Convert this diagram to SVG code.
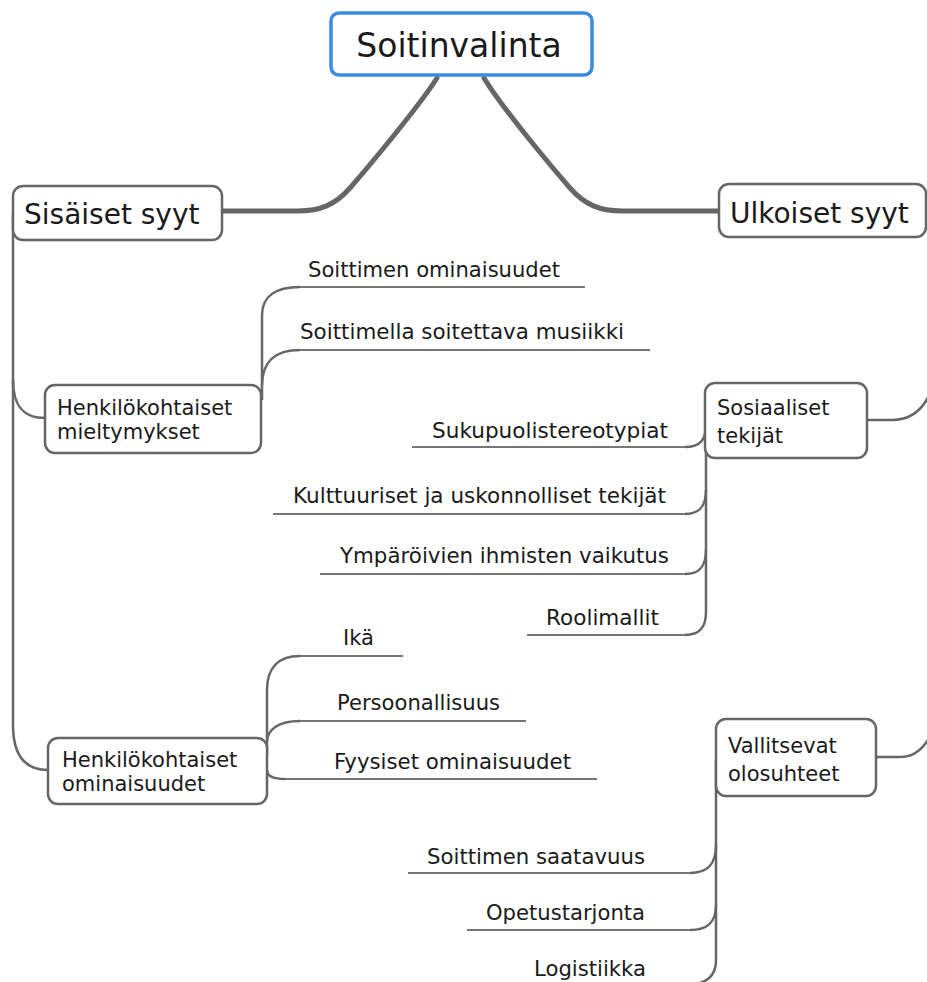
<svg xmlns="http://www.w3.org/2000/svg" width="927" height="982" viewBox="0 0 927 982">
<style>
.bg{fill:#fff}
.box{fill:#fff;stroke:#666;stroke-width:2.5}
.root{fill:#fff;stroke:#3a8dde;stroke-width:3.5}
.t{font-family:"DejaVu Sans","Liberation Sans",sans-serif;fill:#1a1a1a}
.big{font-size:28px}
.mid{font-size:21px}
.leaf{font-size:21px}
.thick{fill:none;stroke:#666;stroke-width:5;stroke-linecap:round}
.c{fill:none;stroke:#666;stroke-width:2.5}
.u{fill:none;stroke:#777;stroke-width:2}
</style>
<rect class="bg" width="927" height="982"/>
<g id="connectors">
  <path class="thick" d="M437,78 C420,105 370,165 350,188 C335,205 320,211 298,211 H222"/>
  <path class="thick" d="M484,78 C500,105 550,165 570,188 C585,205 600,211 622,211 H719"/>
  <path class="c" d="M13,215 V725 C13,755 25,770 48,770"/>
  <path class="c" d="M13,380 C13,408 25,418 45,418"/>
  <path class="c" d="M262,400 V315 C262,297 275,287 300,287"/>
  <path class="u" d="M300,287 H585"/>
  <path class="c" d="M262,385 C262,362 275,350 300,350"/>
  <path class="u" d="M300,350 H650"/>
  <path class="c" d="M868,420 H892 C912,420 925,408 932,388"/>
  <path class="c" d="M706,440 V612 C706,627 700,635 685,635"/>
  <path class="c" d="M706,425 C706,440 700,447 685,447"/>
  <path class="c" d="M706,490 C706,506 700,514 685,514"/>
  <path class="c" d="M706,550 C706,566 700,574 685,574"/>
  <path class="u" d="M412,447 H685 M273,514 H685 M320,574 H685 M527,635 H685"/>
  <path class="c" d="M267,755 V690 C267,668 278,656 300,656"/>
  <path class="u" d="M300,656 H403"/>
  <path class="c" d="M267,742 C267,730 278,721 300,721"/>
  <path class="u" d="M300,721 H526"/>
  <path class="c" d="M267,770 C267,776 272,779 285,779"/>
  <path class="u" d="M285,779 H597"/>
  <path class="c" d="M877,757 H900 C915,757 925,748 932,732"/>
  <path class="c" d="M716,760 V960 C716,975 708,982 695,984"/>
  <path class="c" d="M716,845 C716,864 708,873 690,873"/>
  <path class="c" d="M716,905 C716,922 708,930 690,930"/>
  <path class="u" d="M408,873 H690 M467,930 H690"/>
</g>
<g id="root">
  <rect class="root" x="331" y="13" width="261" height="62" rx="8"/>
  <text class="t" x="459" y="57" font-size="33" text-anchor="middle">Soitinvalinta</text>
</g>
<g id="sisaiset">
  <rect class="box" x="13" y="186" width="209" height="54" rx="10"/>
  <text class="t big" x="24" y="224">Sisäiset syyt</text>
</g>
<g id="ulkoiset">
  <rect class="box" x="719" y="184" width="207" height="53" rx="10"/>
  <text class="t big" x="730" y="223">Ulkoiset syyt</text>
</g>
<g id="mieltymykset">
  <rect class="box" x="45" y="385" width="216" height="68" rx="10"/>
  <text class="t mid" x="57" y="415">Henkilökohtaiset</text>
  <text class="t mid" x="57" y="439">mieltymykset</text>
</g>
<g id="ominaisuudet">
  <rect class="box" x="48" y="738" width="219" height="66" rx="10"/>
  <text class="t mid" x="62" y="767">Henkilökohtaiset</text>
  <text class="t mid" x="62" y="791">ominaisuudet</text>
</g>
<g id="sosiaaliset">
  <rect class="box" x="705" y="383" width="162" height="75" rx="10"/>
  <text class="t mid" x="717" y="415">Sosiaaliset</text>
  <text class="t mid" x="717" y="443">tekijät</text>
</g>
<g id="vallitsevat">
  <rect class="box" x="716" y="719" width="160" height="77" rx="10"/>
  <text class="t mid" x="728" y="753">Vallitsevat</text>
  <text class="t mid" x="728" y="781">olosuhteet</text>
</g>
<g id="leaf-soittimen-ominaisuudet"><text class="t leaf" x="308" y="277" textLength="252" lengthAdjust="spacingAndGlyphs">Soittimen ominaisuudet</text></g>
<g id="leaf-musiikki"><text class="t leaf" x="300" y="339" textLength="324" lengthAdjust="spacingAndGlyphs">Soittimella soitettava musiikki</text></g>
<g id="leaf-sukupuoli"><text class="t leaf" x="432" y="438" textLength="236" lengthAdjust="spacingAndGlyphs">Sukupuolistereotypiat</text></g>
<g id="leaf-kulttuuri"><text class="t leaf" x="293" y="503" textLength="373" lengthAdjust="spacingAndGlyphs">Kulttuuriset ja uskonnolliset tekijät</text></g>
<g id="leaf-ymparoivien"><text class="t leaf" x="340" y="563" textLength="329" lengthAdjust="spacingAndGlyphs">Ympäröivien ihmisten vaikutus</text></g>
<g id="leaf-roolimallit"><text class="t leaf" x="546" y="625" textLength="113" lengthAdjust="spacingAndGlyphs">Roolimallit</text></g>
<g id="leaf-ika"><text class="t leaf" x="343" y="645">Ikä</text></g>
<g id="leaf-persoonallisuus"><text class="t leaf" x="337" y="710" textLength="163" lengthAdjust="spacingAndGlyphs">Persoonallisuus</text></g>
<g id="leaf-fyysiset"><text class="t leaf" x="334" y="769" textLength="237" lengthAdjust="spacingAndGlyphs">Fyysiset ominaisuudet</text></g>
<g id="leaf-saatavuus"><text class="t leaf" x="427" y="864" textLength="218" lengthAdjust="spacingAndGlyphs">Soittimen saatavuus</text></g>
<g id="leaf-opetus"><text class="t leaf" x="486" y="920" textLength="159" lengthAdjust="spacingAndGlyphs">Opetustarjonta</text></g>
<g id="leaf-logistiikka"><text class="t leaf" x="534" y="976" textLength="112" lengthAdjust="spacingAndGlyphs">Logistiikka</text></g>
</svg>
